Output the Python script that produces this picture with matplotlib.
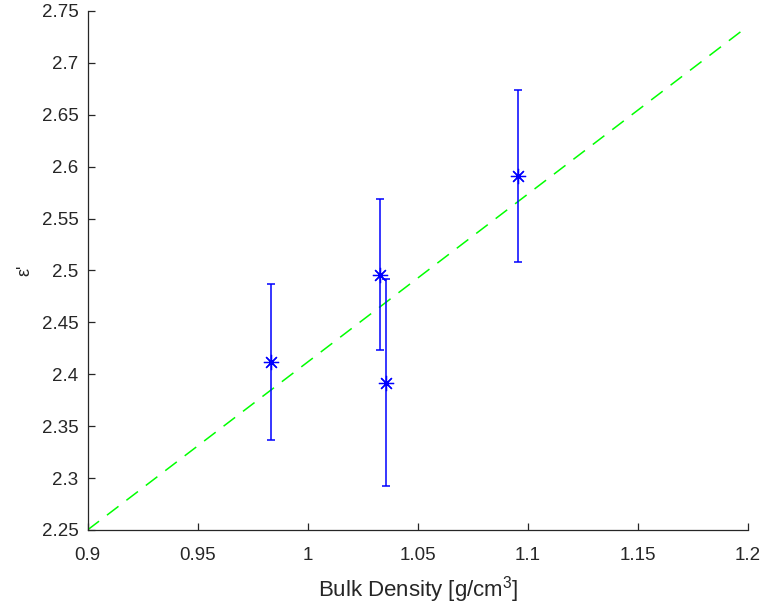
import matplotlib
matplotlib.use("Agg")
import matplotlib.pyplot as plt
import numpy as np

# Measured permittivity versus bulk density
density = [0.9835, 1.0327, 1.0356, 1.0957]
eps_real = [2.412, 2.496, 2.392, 2.591]
eps_err = [0.075, 0.073, 0.100, 0.083]

# Linear fit coefficients (slope, intercept)
fit_coef = [1.618, 0.7938]
fit_range = [0.9, 1.2]

xticks = [0.9, 0.95, 1.0, 1.05, 1.1, 1.15, 1.2]
xticklabels = ['0.9', '0.95', '1', '1.05', '1.1', '1.15', '1.2']
yticks = [2.25, 2.3, 2.35, 2.4, 2.45, 2.5, 2.55, 2.6, 2.65, 2.7, 2.75]
yticklabels = ['2.25', '2.3', '2.35', '2.4', '2.45', '2.5', '2.55', '2.6', '2.65', '2.7', '2.75']

plt.rcParams['font.family'] = ['Liberation Sans', 'DejaVu Sans']
plt.rcParams['mathtext.fontset'] = 'custom'
plt.rcParams['mathtext.rm'] = 'Liberation Sans'
plt.rcParams['mathtext.it'] = 'Liberation Sans'
axis_color = (0.15, 0.15, 0.15)

fig = plt.figure(figsize=(7.63, 6.07), dpi=100)
ax = fig.add_axes([0.1147, 0.1269, 0.8656, 0.8550])

ax.errorbar(density, eps_real, yerr=eps_err, fmt='none', ecolor=(0, 0, 1),
            elinewidth=1.1, capsize=3.2, capthick=1.1, zorder=3)
ax.plot(density, eps_real, linestyle='none', marker=(8, 2, 0), markersize=11,
        markeredgewidth=0.9, color=(0, 0, 1), zorder=4)

xf = np.array(fit_range)
yf = fit_coef[0] * xf + fit_coef[1]
ax.plot(xf, yf, color=(0, 1, 0), linewidth=1.1, dashes=(9.5, 6.5), zorder=2)

ax.set_xlim(0.9, 1.2)
ax.set_ylim(2.25, 2.75)
ax.set_xticks(xticks)
ax.set_xticklabels(xticklabels)
ax.set_yticks(yticks)
ax.set_yticklabels(yticklabels)

for side in ('top', 'right'):
    ax.spines[side].set_visible(False)
for side in ('left', 'bottom'):
    ax.spines[side].set_color(axis_color)
    ax.spines[side].set_linewidth(0.9)

ax.tick_params(direction='in', length=5, width=0.9, color=axis_color,
               labelcolor=axis_color, labelsize=13.5)
ax.tick_params(axis='y', pad=6.5)
ax.tick_params(axis='x', pad=12.5)

ax.set_xlabel('Bulk Density [g/cm$^3$]', fontsize=16, color=axis_color, labelpad=7)
ax.set_ylabel("\u03b5'", fontsize=13, color=axis_color, labelpad=6)

fig.savefig('out.png', dpi=100)
